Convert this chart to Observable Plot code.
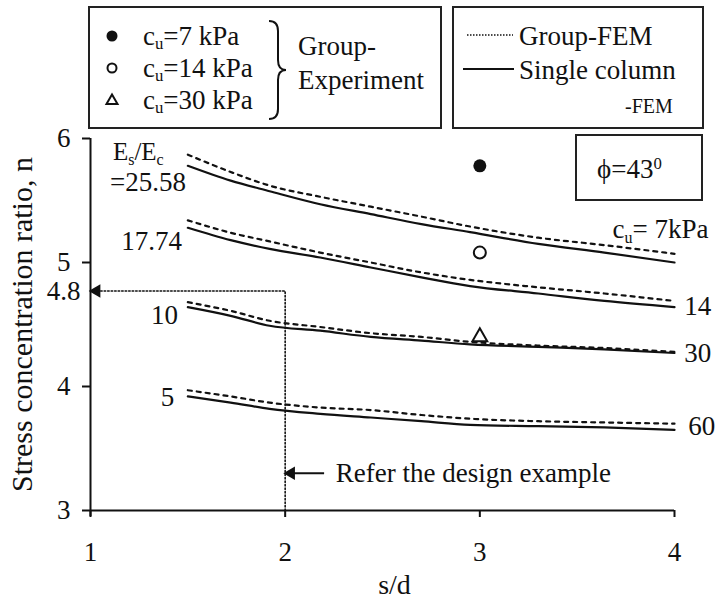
<!DOCTYPE html>
<html><head><meta charset="utf-8">
<script src="https://cdn.jsdelivr.net/npm/d3@7"></script>
<script src="https://cdn.jsdelivr.net/npm/@observablehq/plot@0.6"></script>
<style>
body{margin:0;background:#fff;font-family:"Liberation Serif",serif;color:#111;}
#wrap{position:relative;width:716px;height:606px;overflow:hidden;font-family:"Liberation Serif",serif}
#legend{position:relative;height:130px;width:716px}
#legend svg{position:absolute;left:0;top:0}
.t{position:absolute;white-space:nowrap;font-family:"Liberation Serif",serif;font-size:27px;line-height:1;transform:translateY(-50%)}
.t sub{font-size:0.62em;vertical-align:-0.28em;line-height:0}
#phi{position:absolute;left:575px;top:134px;width:128px;height:67px;border:2px solid #222;box-sizing:border-box;background:#fff;font-family:"Liberation Serif",serif;font-size:27px;line-height:1;z-index:2}
#phi span{position:absolute;left:20px;top:33px;transform:translateY(-50%);white-space:nowrap}
#phi sup{font-size:0.62em;position:relative;top:-0.55em;vertical-align:baseline;line-height:0}
#chart{position:relative}
</style></head>
<body><div id="wrap"><div id="legend"></div><div id="chart"></div><div id="phi"></div></div>
<script>
// ---- data ----
const sd = [1.5, 1.72, 1.92, 2.18, 2.44, 2.7, 2.95, 3.3, 3.64, 4.0];
const ratioLabels = ["25.58", "17.74", "10", "5"];
const cuLabels = ["7kPa", "14", "30", "60"];
const single_2558 = [5.78, 5.66, 5.575, 5.47, 5.39, 5.31, 5.245, 5.15, 5.08, 5.00];
const group_2558  = [5.87, 5.73, 5.62, 5.53, 5.45, 5.37, 5.29, 5.20, 5.14, 5.07];
const single_1774 = [5.28, 5.18, 5.11, 5.04, 4.96, 4.88, 4.81, 4.75, 4.69, 4.64];
const group_1774  = [5.34, 5.24, 5.17, 5.08, 5.00, 4.92, 4.86, 4.80, 4.75, 4.69];
const single_10   = [4.64, 4.57, 4.49, 4.45, 4.40, 4.37, 4.34, 4.32, 4.30, 4.27];
const group_10    = [4.68, 4.61, 4.53, 4.48, 4.43, 4.40, 4.36, 4.33, 4.31, 4.28];
const single_5    = [3.92, 3.87, 3.82, 3.78, 3.75, 3.72, 3.69, 3.68, 3.67, 3.65];
const group_5     = [3.97, 3.92, 3.87, 3.83, 3.81, 3.77, 3.74, 3.72, 3.71, 3.70];
const expSd = 3;
const expCu = ["7", "14", "30"];
const expN = [5.78, 5.08, 4.40];
const yTicks = [3, 4, 5, 6];
const xTicks = [1, 2, 3, 4];
const designSd = 2, designN = 4.77, designLabel = "4.8";
const referText = "Refer the design example";
const phiText = "ϕ=43<sup>0</sup>";

// ---- tables ----
const singles = [single_2558, single_1774, single_10, single_5];
const groups = [group_2558, group_1774, group_10, group_5];
const rows = [];
ratioLabels.forEach((r, i) => {
  sd.forEach((s, j) => {
    rows.push({sd: s, n: singles[i][j], ratio: r, type: "single"});
    rows.push({sd: s, n: groups[i][j], ratio: r, type: "group"});
  });
});
const exp = expCu.map((c, i) => ({sd: expSd, n: expN[i], cu: c}));

// label anchors
const ratioTitle = [{sd: 1.115, n: 5.895, text: "E_s/E_c"}];
const leftStartLabels = [
  {sd: 1.10, n: 5.65, text: "=" + ratioLabels[0]}
];
const leftEndLabels = [
  {sd: 1.47, n: 5.17, text: ratioLabels[1]},
  {sd: 1.45, n: 4.57, text: ratioLabels[2]},
  {sd: 1.43, n: 3.91, text: ratioLabels[3]}
];
const rightEndLabels = [
  {sd: 4.175, n: 5.27, text: "c_u= " + cuLabels[0]}
];
const rightStartLabels = [
  {sd: 4.05, n: 4.65, text: cuLabels[1]},
  {sd: 4.05, n: 4.27, text: cuLabels[2]},
  {sd: 4.07, n: 3.68, text: cuLabels[3]}
];
const design = [{sd: designSd, n: 3}, {sd: designSd, n: designN}, {sd: 1, n: designN}];
const refer = {x1: 2.2, x2: 2.02, n: 3.3, textX: 2.26};

const ink = "#111";
const chart = Plot.plot({
  width: 716, height: 476,
  marginTop: 8, marginBottom: 96, marginLeft: 90, marginRight: 42,
  style: {fontFamily: "Liberation Serif, serif", fontSize: "27px", color: ink, background: "#fff", overflow: "visible"},
  x: {domain: [1, 4]},
  y: {domain: [3, 6]},
  marks: [
    Plot.ruleX([1], {stroke: ink, strokeWidth: 2, insetBottom: -6}),
    Plot.ruleY([3], {stroke: ink, strokeWidth: 2}),
    Plot.axisY({ticks: yTicks, tickSize: 8, tickPadding: 12, strokeWidth: 2, label: null, tickFormat: d => String(d)}),
    Plot.axisY({ticks: [designN], tickSize: 0, tickPadding: 10, label: null, tickFormat: () => designLabel}),
    Plot.axisX({ticks: xTicks, tickSize: 7, tickPadding: 24, strokeWidth: 2, label: null, tickFormat: d => String(d)}),
    Plot.line(design, {x: "sd", y: "n", stroke: ink, strokeWidth: 1.6, strokeDasharray: "1.5,2"}),
    Plot.dot([design[2]], {x: "sd", y: "n", symbol: "triangle", rotate: -90, r: 5, fill: ink, dx: 6}),
    Plot.link([refer], {x1: "x1", x2: "x2", y1: "n", y2: "n", stroke: ink, strokeWidth: 2}),
    Plot.dot([refer], {x: "x2", y: "n", symbol: "triangle", rotate: -90, r: 5, fill: ink, dx: 2}),
    Plot.text([refer], {x: "textX", y: "n", text: () => referText, textAnchor: "start", fontSize: 27}),
    Plot.line(rows.filter(d => d.type === "single"), {x: "sd", y: "n", z: "ratio", stroke: ink, strokeWidth: 2.2, curve: "monotone-x"}),
    Plot.line(rows.filter(d => d.type === "group"), {x: "sd", y: "n", z: "ratio", stroke: ink, strokeWidth: 2.2, strokeDasharray: "4,5", curve: "monotone-x"}),
    Plot.dot(exp.filter(d => d.cu === "7"), {x: "sd", y: "n", r: 6.5, fill: ink}),
    Plot.dot(exp.filter(d => d.cu === "14"), {x: "sd", y: "n", r: 6, fill: "#fff", stroke: ink, strokeWidth: 2}),
    Plot.dot(exp.filter(d => d.cu === "30"), {x: "sd", y: "n", r: 5.5, symbol: "triangle", fill: "#fff", stroke: ink, strokeWidth: 2}),
    Plot.text(ratioTitle, {x: "sd", y: "n", text: "text", textAnchor: "start", fontSize: 25}),
    Plot.text(leftStartLabels, {x: "sd", y: "n", text: "text", textAnchor: "start", fontSize: 27}),
    Plot.text(leftEndLabels, {x: "sd", y: "n", text: "text", textAnchor: "end", fontSize: 27}),
    Plot.text(rightEndLabels, {x: "sd", y: "n", text: "text", textAnchor: "end", fontSize: 27}),
    Plot.text(rightStartLabels, {x: "sd", y: "n", text: "text", textAnchor: "start", fontSize: 27}),
    Plot.text(["Stress concentration ratio, n"], {text: d => d, frameAnchor: "left", rotate: -90, dx: -68, textAnchor: "middle", lineAnchor: "middle", fontSize: 30}),
    Plot.text(["s/d"], {text: d => d, frameAnchor: "bottom", dx: 12, dy: 75, textAnchor: "middle", lineAnchor: "middle", fontSize: 28})
  ]
});
document.getElementById("chart").appendChild(chart);

// subscripts in svg text (E_s, E_c, c_u)
d3.select(chart).selectAll("text").each(function() {
  const t = this.textContent;
  if (!t.includes("_")) return;
  const parts = t.split(/_(\w)/);
  const sel = d3.select(this);
  sel.text(null);
  parts.forEach((p, i) => {
    if (i % 2 === 1) {
      sel.append("tspan").attr("dy", 5).attr("font-size", 16).text(p);
    } else if (p) {
      sel.append("tspan").attr("dy", i === 0 ? 0 : -5).text(p);
    }
  });
});

// ---- legend (HTML above the svg) ----
const expLegend = expCu.map(c => "c<sub>u</sub>=" + c + " kPa");
const braceText = ["Group-", "Experiment"];
const femLegend = ["Group-FEM", "Single column", "-FEM"];
const leg = d3.select("#legend");
const ls = leg.append("svg").attr("width", 716).attr("height", 130);
ls.append("rect").attr("x", 89).attr("y", 7).attr("width", 352).attr("height", 121).attr("fill", "none").attr("stroke", "#222").attr("stroke-width", 2);
ls.append("rect").attr("x", 453).attr("y", 7).attr("width", 250).attr("height", 121).attr("fill", "none").attr("stroke", "#222").attr("stroke-width", 2);
ls.append("circle").attr("cx", 112).attr("cy", 36).attr("r", 5.5).attr("fill", ink);
ls.append("circle").attr("cx", 112).attr("cy", 68).attr("r", 4.5).attr("fill", "#fff").attr("stroke", ink).attr("stroke-width", 2);
ls.append("path").attr("d", "M112,94.5L106.5,104L117.5,104Z").attr("fill", "#fff").attr("stroke", ink).attr("stroke-width", 2);
ls.append("path").attr("d", "M269,21 Q278,21 278,31 L278,60 Q278,70 286,70 Q278,70 278,80 L278,109 Q278,119 269,119").attr("fill", "none").attr("stroke", ink).attr("stroke-width", 2);
ls.append("line").attr("x1", 467).attr("x2", 513).attr("y1", 35).attr("y2", 35).attr("stroke", ink).attr("stroke-width", 1.6).attr("stroke-dasharray", "1.5,1.5");
ls.append("line").attr("x1", 463).attr("x2", 514).attr("y1", 69).attr("y2", 69).attr("stroke", ink).attr("stroke-width", 2);
const legText = [
  {html: expLegend[0], x: 143, y: 36},
  {html: expLegend[1], x: 143, y: 68},
  {html: expLegend[2], x: 143, y: 100},
  {html: braceText[0], x: 298, y: 46},
  {html: braceText[1], x: 298, y: 80},
  {html: femLegend[0], x: 519, y: 36},
  {html: femLegend[1], x: 519, y: 70},
  {html: femLegend[2], x: 625, y: 106, size: 20}
];
legText.forEach(d => {
  leg.append("div").attr("class", "t").style("left", d.x + "px").style("top", d.y + "px")
    .style("font-size", (d.size || 27) + "px").html(d.html);
});
document.getElementById("phi").innerHTML = "<span>" + phiText + "</span>";
</script></body></html>
